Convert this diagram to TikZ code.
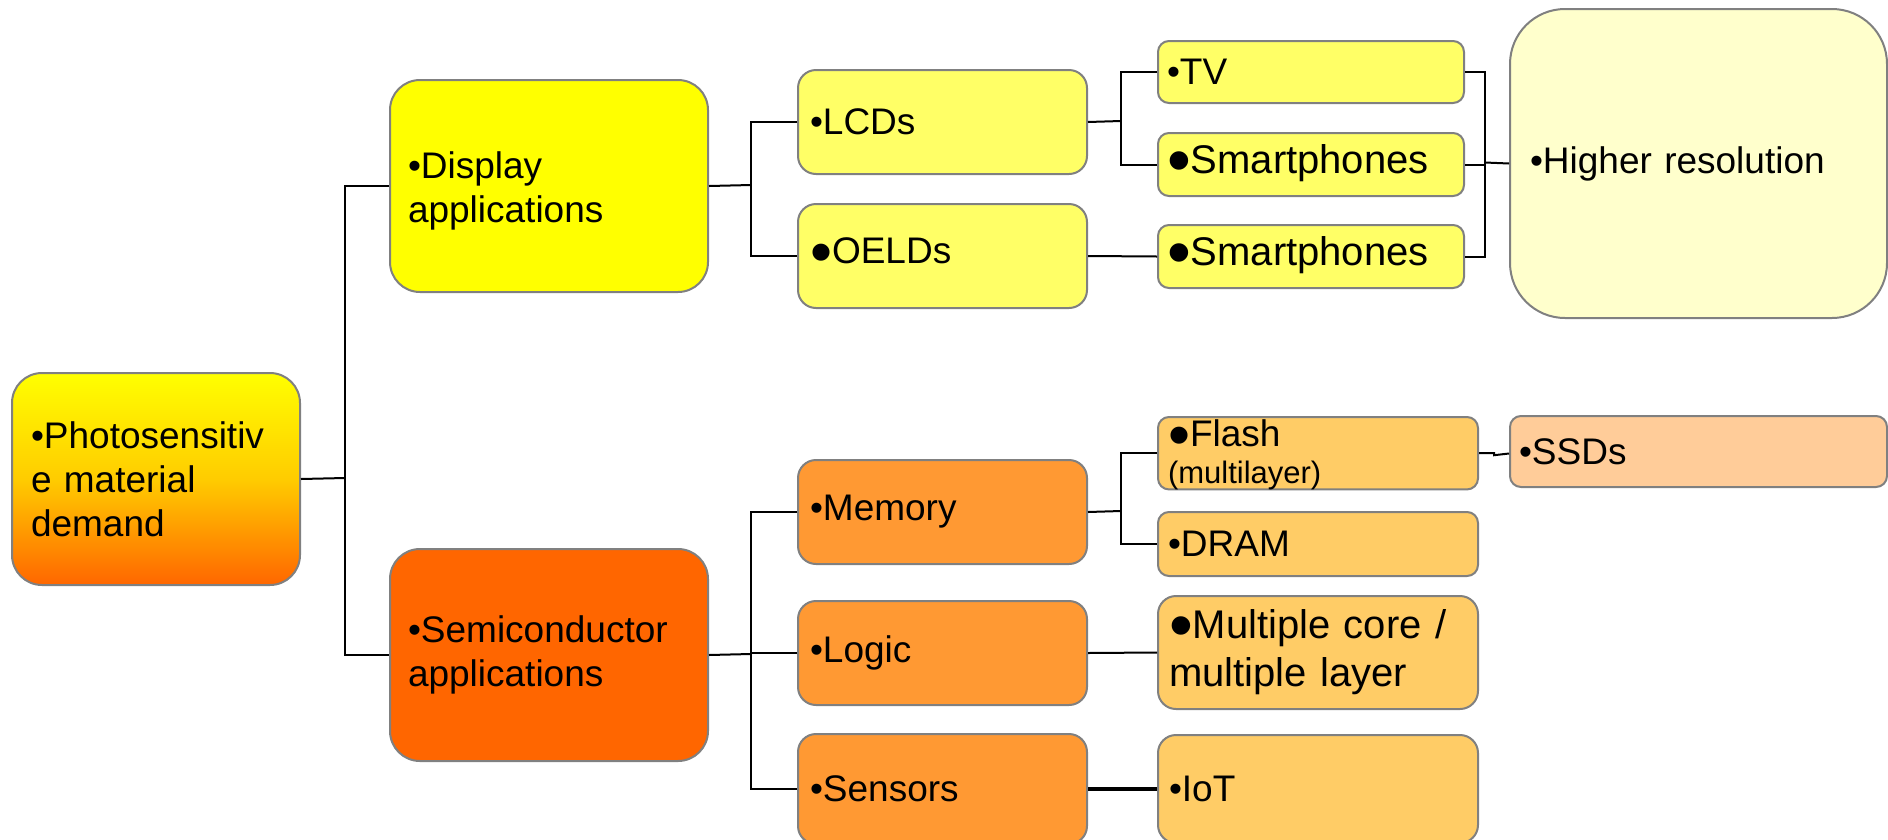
\documentclass[tikz,border=0pt]{standalone}
\usepackage{fontspec}
\setmainfont{Liberation Sans}
\usepackage{graphicx}
\definecolor{cBorder}{HTML}{808080}
\definecolor{cDisp}{HTML}{FFFF00}
\definecolor{cSemi}{HTML}{FF6600}
\definecolor{cLvYel}{HTML}{FFFF66}
\definecolor{cHiRes}{HTML}{FFFFCC}
\definecolor{cLvOra}{HTML}{FF9933}
\definecolor{cLeafOra}{HTML}{FFCC66}
\definecolor{cSSD}{HTML}{FFCC99}
\definecolor{cRootMid}{HTML}{FFCC00}
\newcommand\bigbul{\raisebox{-10pt}{\scalebox{1.7}{•}}}
\begin{document}
\begin{tikzpicture}[x=1pt,y=-1pt]
\tikzset{
  bx/.style={draw=cBorder, line width=2pt, inner ysep=0pt, align=left,
    anchor=north west, font=\fontsize{37}{44}\selectfont},
  big/.style={rounded corners=30pt, inner xsep=18pt},
  mid/.style={rounded corners=18pt, inner xsep=12pt},
  small/.style={rounded corners=11pt, inner xsep=9pt},
  cn/.style={line width=2pt, draw=black},
}
\clip (0,0) rectangle (1888,839);
\fill[white] (0,0) rectangle (1888,839);
% level 0
\node[bx, big, inner xsep=19pt, top color=cDisp, bottom color=cSemi, middle color=cRootMid,
  text width=250pt, minimum height=212pt] (root) at (11,372) {•Photosensitiv\\e material\\demand};
% level 1
\node[bx, big, fill=cDisp, text width=282pt, minimum height=212pt] (disp) at (389,79) {\rule{0pt}{36pt}•Display\\applications};
\node[bx, big, fill=cSemi, text width=282pt, minimum height=212pt] (semi) at (389,548) {•Semiconductor\\applications};
% level 2
\node[bx, mid, fill=cLvYel, text width=265pt, minimum height=104pt] (lcd) at (797,69) {•LCDs};
\node[bx, mid, fill=cLvYel, text width=265pt, minimum height=104pt] (oeld) at (797,203) {\bigbul OELDs};
\node[bx, mid, fill=cLvOra, text width=265pt, minimum height=104pt] (mem) at (797,459) {•Memory};
\node[bx, mid, fill=cLvOra, text width=265pt, minimum height=104pt] (logic) at (797,600) {•Logic};
\node[bx, mid, fill=cLvOra, text width=265pt, minimum height=110pt] (sens) at (797,733) {•Sensors};
% level 3 display
\node[bx, small, fill=cLvYel, text width=288pt, minimum height=62pt] (tv) at (1157,40) {•TV};
\node[bx, small, fill=cLvYel, text width=288pt, minimum height=63pt, font=\fontsize{40}{44}\selectfont] (sm1) at (1157,132) {\bigbul Smartphones};
\node[bx, small, fill=cLvYel, text width=288pt, minimum height=63pt, font=\fontsize{40}{44}\selectfont] (sm2) at (1157,224) {\bigbul Smartphones};
\node[bx, rounded corners=55pt, inner xsep=20pt, fill=cHiRes, text width=337pt, minimum height=309pt] (hires) at (1509,8) {•Higher resolution};
% level 3 semiconductor
\node[bx, small, inner xsep=10pt, fill=cLeafOra, text width=300pt, minimum height=69pt, font=\fontsize{37}{37}\selectfont] (flash) at (1157,416) {\rule{0pt}{29pt}\bigbul Flash\\{\fontsize{31}{37}\selectfont (multilayer)}};
\node[bx, small, inner xsep=10pt, fill=cLeafOra, text width=300pt, minimum height=64pt] (dram) at (1157,511) {•DRAM};
\node[bx, mid, inner xsep=11pt, fill=cLeafOra, text width=298pt, minimum height=113pt, font=\fontsize{40}{48}\selectfont] (multi) at (1157,595) {\bigbul Multiple core /\\multiple layer};
\node[bx, mid, inner xsep=11pt, fill=cLeafOra, text width=298pt, minimum height=108pt] (iot) at (1157,734) {•IoT};
\node[bx, small, fill=cSSD, text width=359pt, minimum height=71pt] (ssd) at (1509,415) {•SSDs};
% connectors
\coordinate (j1) at (345,478);
\draw[cn] (root.east) -- (j1);
\draw[cn] (disp.west) -| (j1) |- (semi.west);
\coordinate (j2) at (751,185);
\draw[cn] (disp.east) -- (j2);
\draw[cn] (lcd.west) -| (j2) |- (oeld.west);
\coordinate (j3) at (1121,121);
\draw[cn] (lcd.east) -- (j3);
\draw[cn] (tv.west) -| (j3) |- (sm1.west);
\draw[cn] (oeld.east) -- (sm2.west);
\coordinate (j4) at (1485,162.5);
\draw[cn] (hires.west) -- (j4);
\draw[cn] (tv.east) -| (j4) |- (sm2.east);
\draw[cn] (sm1.east) -- (sm1.east -| j4);
\coordinate (j5) at (751,654);
\draw[cn] (semi.east) -- (j5);
\draw[cn] (mem.west) -| (j5) |- (sens.west);
\draw[cn] (logic.west) -- (logic.west -| j5);
\coordinate (j6) at (1121,511);
\draw[cn] (mem.east) -- (j6);
\draw[cn] (flash.west) -| (j6) |- (dram.west);
\draw[cn] (logic.east) -- (multi.west);
\draw[cn, line width=4pt] (sens.east) -- (iot.west);
\coordinate (fs) at ([xshift=15pt]flash.east);
\draw[cn] (flash.east) -- (fs) -- ([yshift=-2pt]fs) -- ([yshift=-2pt]ssd.west);
\end{tikzpicture}
\end{document}
